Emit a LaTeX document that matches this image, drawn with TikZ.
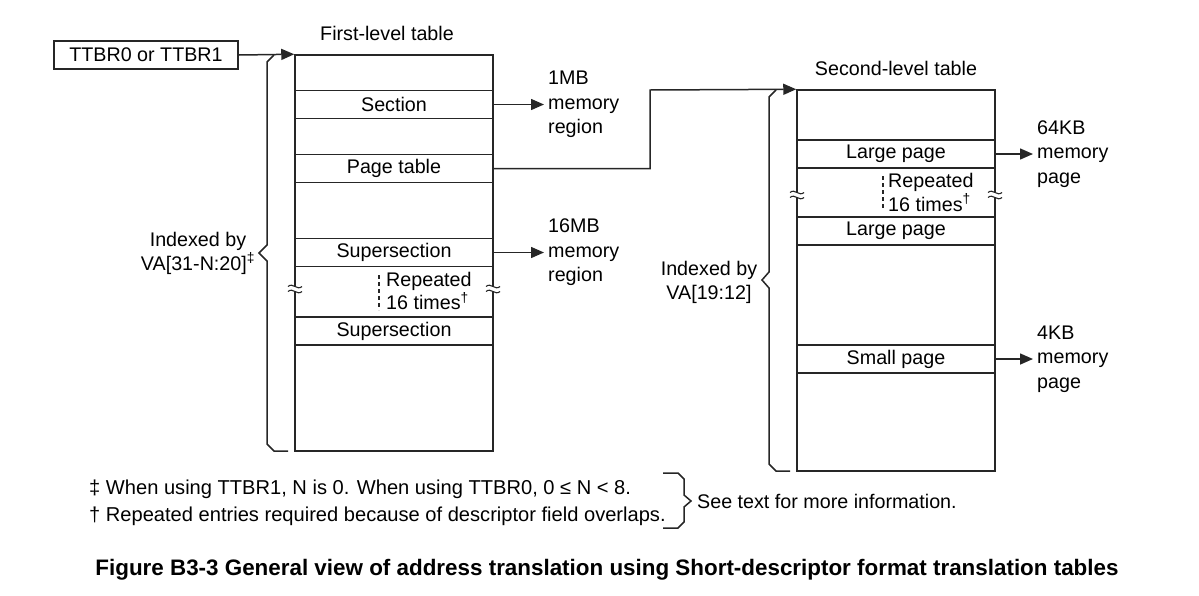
\documentclass[tikz,border=0pt]{standalone}
\usepackage{fontspec}
\setmainfont{Liberation Sans}
\usetikzlibrary{arrows.meta}
\begin{document}
\begin{tikzpicture}[x=1pt,y=-1pt,
  every node/.style={font=\fontsize{19.7}{23.5}\selectfont, inner sep=0pt, text=black},
  ln/.style={line width=1.5pt, draw=black!85},
  arr/.style={ln, -{Triangle[length=13pt,width=11pt]}},
  tbl/.style={ln, draw, minimum width=198pt},
  rowbox/.style={ln, draw, minimum width=198pt, minimum height=28pt},
  txt/.style={align=left, anchor=west},
  memtxt/.style={txt, font=\fontsize{19.7}{24.5}\selectfont},
  fntxt/.style={anchor=west, font=\fontsize{20.1}{24}\selectfont},
  dsh/.style={line width=1.2pt, draw=black!85, dash pattern=on 4pt off 3pt},
  pics/brk/.style={code={
    \fill[white] (-7,-2.5) rectangle (7,2.5);
    \draw[line width=1.1pt, black!85] (-7,-2.5) .. controls (-2,-7) and (2,2) .. (7,-2.5);
    \draw[line width=1.1pt, black!85] (-7,2.5) .. controls (-2,-2) and (2,7) .. (7,2.5);
  }}
]
\useasboundingbox (0,0) rectangle (1199,595);

% TTBR
\node[ln, draw, minimum width=184pt, minimum height=28pt] (ttbr) at (146,55) {TTBR0 or TTBR1};

% First-level table
\node (t1title) at (387,33) {First-level table};
\node[tbl, minimum height=396pt] (t1) at (394,253) {};
\node[rowbox] (sec) at (394,104.5) {Section};
\node[rowbox] (pt) at (394,168.5) {Page table};
\node[rowbox] (sup1) at (394,252.5) {Supersection};
\node[rowbox] (sup2) at (394,331) {Supersection};
\draw[dsh] (379,275) -- (379,310);
\node[txt] (rep1) at (386,291) {Repeated\\16 times\textsuperscript{†}};
\pic at (295,289) {brk};
\pic at (493,289) {brk};

\draw[arr] (ttbr.east) -- (t1.north west);

% memory region labels
\node[memtxt] (m1) at (548,104.5) {1MB\\memory\\region};
\node[memtxt] (m16) at (548,252.5) {16MB\\memory\\region};
\draw[arr] (sec.east) -- ([xshift=-4pt]sec.east -| m1.west);
\draw[arr] (sup1.east) -- ([xshift=-4pt]sup1.east -| m16.west);

% brace 1
\draw[ln] (274,55) -- (267,62) -- (267,245) -- (259,253) -- (267,261) -- (267,444) -- (274,451) -- (288,451);
\node[align=center, font=\fontsize{19.7}{24}\selectfont] (idx1) at (198,253) {Indexed by\\VA[31-N:20]\textsuperscript{‡}};

% Second-level table
\node (t2title) at (896,68) {Second-level table};
\node[tbl, minimum height=381pt] (t2) at (896,280.5) {};
\node[rowbox] (lp1) at (896,154) {Large page};
\node[rowbox] (lp2) at (896,231) {Large page};
\node[rowbox] (sp) at (896,359) {Small page};
\draw[dsh] (883,176) -- (883,210);
\node[txt] (rep2) at (888,192.5) {Repeated\\16 times\textsuperscript{†}};
\pic at (797,195) {brk};
\pic at (995,195) {brk};

\coordinate (bend) at (650,90);
\draw[arr] (pt.east) -| (bend) -- (t2.north west);

\node[memtxt] (m64) at (1037,154) {64KB\\memory\\page};
\node[memtxt] (m4) at (1037,359) {4KB\\memory\\page};
\draw[arr] (lp1.east) -- ([xshift=-4pt]lp1.east -| m64.west);
\draw[arr] (sp.east) -- ([xshift=-4pt]sp.east -| m4.west);

% brace 2
\draw[ln] (776,90) -- (769,97) -- (769,272) -- (762,280) -- (769,288) -- (769,464) -- (776,471) -- (790,471);
\node[align=center, font=\fontsize{19.7}{24}\selectfont] (idx2) at (709,282) {Indexed by\\VA[19:12]};

% footnotes
\node[fntxt] (fn1) at (89,489) {‡ When using TTBR1, N is 0. When using TTBR0, 0 ≤ N < 8.};
\node[fntxt] (fn2) at (89,516) {† Repeated entries required because of descriptor field overlaps.};
\draw[ln] (663,473) -- (678,473) -- (684,479) -- (684,495) -- (691,501) -- (684,507) -- (684,522) -- (678,528) -- (663,528);
\node[anchor=west] (see) at (697,501) {See text for more information.};

% caption
\node[font=\fontsize{22.4}{26}\selectfont\bfseries] (cap) at (607,570) {Figure B3-3 General view of address translation using Short-descriptor format translation tables};
\end{tikzpicture}
\end{document}
